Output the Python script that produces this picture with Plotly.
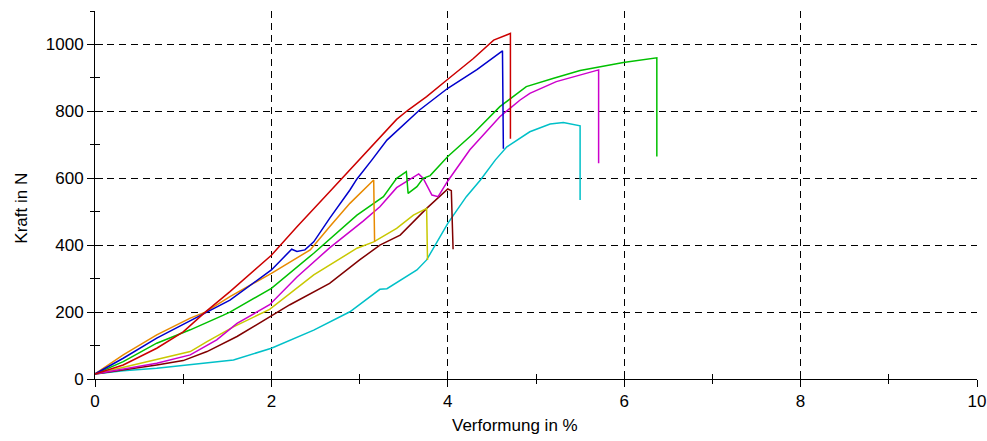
import plotly.graph_objects as go

# ---- data (Verformung in %, Kraft in N) ----
red_x = [0, 0.32, 0.70, 1.0, 1.25, 1.53, 2.0, 2.29, 2.66, 2.80, 3.0, 3.12, 3.42, 3.55, 3.76, 4.0, 4.29, 4.52, 4.71, 4.71]
red_y = [15, 42, 92, 141, 200, 261, 370, 455, 560, 600, 657, 693, 776, 804, 844, 896, 958, 1013, 1033, 718]

blue_x = [0, 0.32, 0.70, 1.08, 1.25, 1.53, 2.0, 2.23, 2.29, 2.38, 2.48, 2.66, 2.89, 2.97, 3.14, 3.31, 3.68, 4.0, 4.33, 4.62, 4.63]
blue_y = [15, 62, 122, 174, 196, 236, 326, 388, 381, 386, 410, 480, 565, 598, 655, 714, 804, 869, 925, 981, 688]

orange_x = [0, 0.32, 0.70, 1.08, 1.25, 1.53, 2.0, 2.29, 2.44, 2.66, 2.89, 3.16, 3.17]
orange_y = [15, 72, 132, 182, 200, 246, 316, 361, 386, 455, 525, 595, 410]

green_x = [0, 0.32, 0.70, 1.08, 1.45, 1.53, 2.0, 2.48, 2.97, 3.27, 3.42, 3.53, 3.55, 3.65, 3.72, 3.80, 4.0, 4.29, 4.59, 4.82, 4.89, 5.20, 5.50, 5.99, 6.37, 6.37]
green_y = [15, 52, 107, 147, 190, 200, 271, 376, 490, 545, 600, 620, 555, 575, 600, 608, 665, 734, 814, 859, 874, 899, 922, 946, 960, 665]

magenta_x = [0, 0.32, 0.70, 1.08, 1.38, 1.61, 1.98, 2.29, 2.66, 3.04, 3.23, 3.42, 3.67, 3.72, 3.82, 3.89, 4.0, 4.25, 4.59, 4.82, 4.93, 5.23, 5.50, 5.71, 5.71]
magenta_y = [15, 29, 47, 72, 117, 166, 222, 305, 392, 472, 515, 572, 613, 600, 550, 545, 592, 685, 784, 834, 854, 889, 909, 924, 645]

yellow_x = [0, 0.32, 0.70, 1.08, 1.27, 1.57, 1.98, 2.48, 2.97, 3.16, 3.42, 3.61, 3.76, 3.77]
yellow_y = [15, 35, 57, 82, 112, 156, 208, 311, 391, 410, 450, 490, 510, 356]

brown_x = [0, 0.32, 0.70, 1.0, 1.27, 1.61, 2.0, 2.21, 2.66, 3.0, 3.23, 3.46, 3.76, 4.0, 4.04, 4.06]
brown_y = [15, 27, 42, 55, 82, 127, 188, 222, 286, 356, 400, 430, 510, 568, 563, 388]

cyan_x = [0, 0.32, 0.70, 1.08, 1.57, 2.0, 2.48, 2.89, 3.20, 3.23, 3.31, 3.50, 3.65, 3.76, 4.0, 4.21, 4.37, 4.54, 4.67, 4.93, 5.16, 5.31, 5.50, 5.50]
cyan_y = [15, 25, 32, 42, 57, 92, 146, 201, 262, 268, 270, 300, 326, 356, 465, 545, 595, 655, 694, 739, 762, 767, 757, 535]

x_ticks = [0, 2, 4, 6, 8, 10]
x_grid = [2, 4, 6, 8]
y_ticks = [0, 200, 400, 600, 800, 1000]

series = [
    (cyan_x, cyan_y, "#00c0c8"),
    (brown_x, brown_y, "#800000"),
    (yellow_x, yellow_y, "#c8c800"),
    (magenta_x, magenta_y, "#cc00cc"),
    (green_x, green_y, "#00c000"),
    (orange_x, orange_y, "#e88a00"),
    (blue_x, blue_y, "#0000cc"),
    (red_x, red_y, "#cc0000"),
]

fig = go.Figure()
for xs, ys, c in series:
    fig.add_trace(go.Scatter(x=xs, y=ys, mode="lines", line=dict(color=c, width=1.5),
                             showlegend=False, hoverinfo="skip"))
# empty traces to activate overlay axes
fig.add_trace(go.Scatter(x=[], y=[], xaxis="x2", yaxis="y2", showlegend=False, hoverinfo="skip"))
fig.add_trace(go.Scatter(x=[], y=[], xaxis="x3", yaxis="y", showlegend=False, hoverinfo="skip"))

font = dict(family="Arial, Liberation Sans, sans-serif", size=17, color="black")
grid_dash = "7px,5px"

fig.update_layout(
    width=987, height=441,
    margin=dict(l=95, r=10, t=11, b=62, autoexpand=False),
    paper_bgcolor="white", plot_bgcolor="white",
    font=font,
    xaxis=dict(range=[0, 10], tickmode="array", tickvals=x_ticks, ticks="outside", ticklen=7,
               tickcolor="black", showline=True, linecolor="black", linewidth=1,
               showgrid=False, zeroline=False, automargin=False,
               minor=dict(ticks="outside", ticklen=4, dtick=1, tick0=0, tickcolor="black", showgrid=False),
               tickfont=font),
    xaxis2=dict(range=[0, 10], overlaying="x", anchor="y2", tickmode="linear", tick0=0, dtick=2,
                ticks="inside", ticklen=8, tickcolor="black", showticklabels=False,
                showgrid=False, zeroline=False, showline=False, automargin=False,
                minor=dict(ticks="inside", ticklen=5, dtick=1, tick0=0, tickcolor="black", showgrid=False)),
    xaxis3=dict(range=[0, 10], overlaying="x", anchor="y", tickmode="array", tickvals=x_grid,
                ticks="", showticklabels=False, showgrid=True, gridcolor="black", gridwidth=1,
                griddash=grid_dash, zeroline=False, showline=False, automargin=False),
    yaxis=dict(range=[0, 1100], tickmode="array", tickvals=y_ticks, ticks="outside", ticklen=7,
               tickcolor="black", showline=True, linecolor="black", linewidth=1,
               showgrid=True, gridcolor="black", gridwidth=1, griddash=grid_dash, zeroline=False,
               automargin=False,
               minor=dict(ticks="outside", ticklen=4, dtick=100, tick0=0, tickcolor="black", showgrid=False),
               tickfont=font),
    yaxis2=dict(range=[0, 1100], overlaying="y", anchor="x2", tickmode="linear", tick0=0, dtick=200,
                ticks="inside", ticklen=8, tickcolor="black", showticklabels=False,
                showgrid=False, zeroline=False, showline=False, automargin=False,
                minor=dict(ticks="inside", ticklen=5, dtick=100, tick0=0, tickcolor="black", showgrid=False)),
    annotations=[
        dict(text="Verformung in %", xref="paper", yref="paper", x=0.476, y=-0.125,
             xanchor="center", yanchor="middle", showarrow=False, font=font),
        dict(text="Kraft in N", xref="paper", yref="paper", x=-0.083, y=0.465,
             xanchor="center", yanchor="middle", showarrow=False, textangle=-90, font=font),
    ],
)

fig.write_html("out.html")
